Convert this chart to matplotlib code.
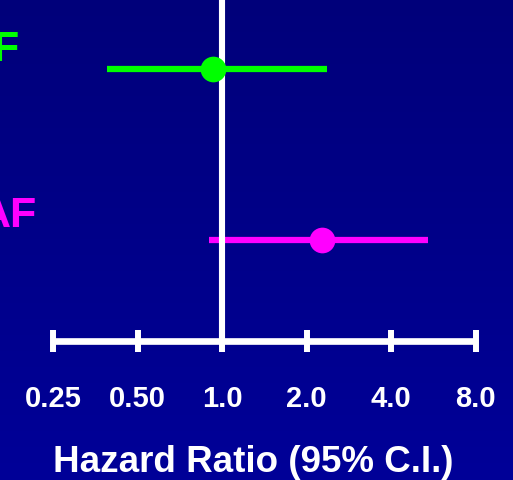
import numpy as np
import matplotlib as mpl
from matplotlib import pyplot as plt

mpl.rcParams['font.family'] = ['Liberation Sans', 'DejaVu Sans']
mpl.rcParams['font.weight'] = 'bold'

# ===================== data =====================
labels = ["AF", "AF"]
colors = ["#00ff00", "#ff00ff"]
hr = [0.93, 2.27]
ci_low = [0.39, 0.90]
ci_high = [2.36, 5.43]
ticks = [0.25, 0.5, 1.0, 2.0, 4.0, 8.0]
tick_labels = ["0.25", "0.50", "1.0", "2.0", "4.0", "8.0"]

W, H = 513, 481
fig = plt.figure(figsize=(W / 100, H / 100), dpi=100)

# background gradient
bg = fig.add_axes([0, 0, 1, 1], zorder=-1)
grad = np.linspace(0, 1, 256).reshape(-1, 1)
cmap = mpl.colors.LinearSegmentedColormap.from_list("bg", ["#00007a", "#000098"])
bg.imshow(grad, aspect="auto", cmap=cmap, extent=[0, 1, 0, 1], origin="upper")
bg.axis("off")

ax = fig.add_axes([0, 0, 1, 1])
ax.set_facecolor("none")
ax.set_xscale("log", base=2)
px = 84.5
ax.set_xlim(2 ** (-2 - 53.3 / px), 2 ** (3 + (W - 475.7) / px))
rows = np.arange(len(hr))
row_px = 171.0
ax.set_ylim(1 + (H - 241) / row_px, -70 / row_px)
axis_y = 1 + (342 - 241) / row_px

# reference line at HR = 1
ax.plot([1, 1], [ax.get_ylim()[1], axis_y], color="white", lw=4.4,
        solid_capstyle="butt", zorder=3)

for i in rows:
    ax.plot([ci_low[i], ci_high[i]], [i, i], color=colors[i], lw=4.5,
            solid_capstyle="butt", zorder=2)
    ax.plot(hr[i], i, "o", color=colors[i], ms=18.5, mec="none", zorder=4)

# axis with ticks
for s in ["top", "left", "right"]:
    ax.spines[s].set_visible(False)
ax.spines["bottom"].set_position(("data", axis_y))
ax.spines["bottom"].set_bounds(ticks[0], ticks[-1])
ax.spines["bottom"].set_color("white")
ax.spines["bottom"].set_linewidth(4.8)
ax.spines["bottom"].set_capstyle("butt")
ax.set_xticks(ticks)
ax.set_xticklabels(tick_labels)
ax.xaxis.set_minor_locator(mpl.ticker.NullLocator())
ax.tick_params(axis="x", direction="inout", length=16.5, width=4.3,
               colors="white", labelsize=21, pad=23)
ax.set_yticks([])

fig.text(253.5 / W, 1 - 472 / H, "Hazard Ratio (95% C.I.)", color="white",
         fontsize=26.5, fontweight="bold", ha="center", va="baseline")

label_right = [20, 37]
label_base = [61, 227]
for i in rows:
    fig.text(label_right[i] / W, 1 - label_base[i] / H, labels[i],
             color=colors[i], fontsize=31, fontweight="bold",
             ha="right", va="baseline")

fig.savefig("out.png", dpi=100)
